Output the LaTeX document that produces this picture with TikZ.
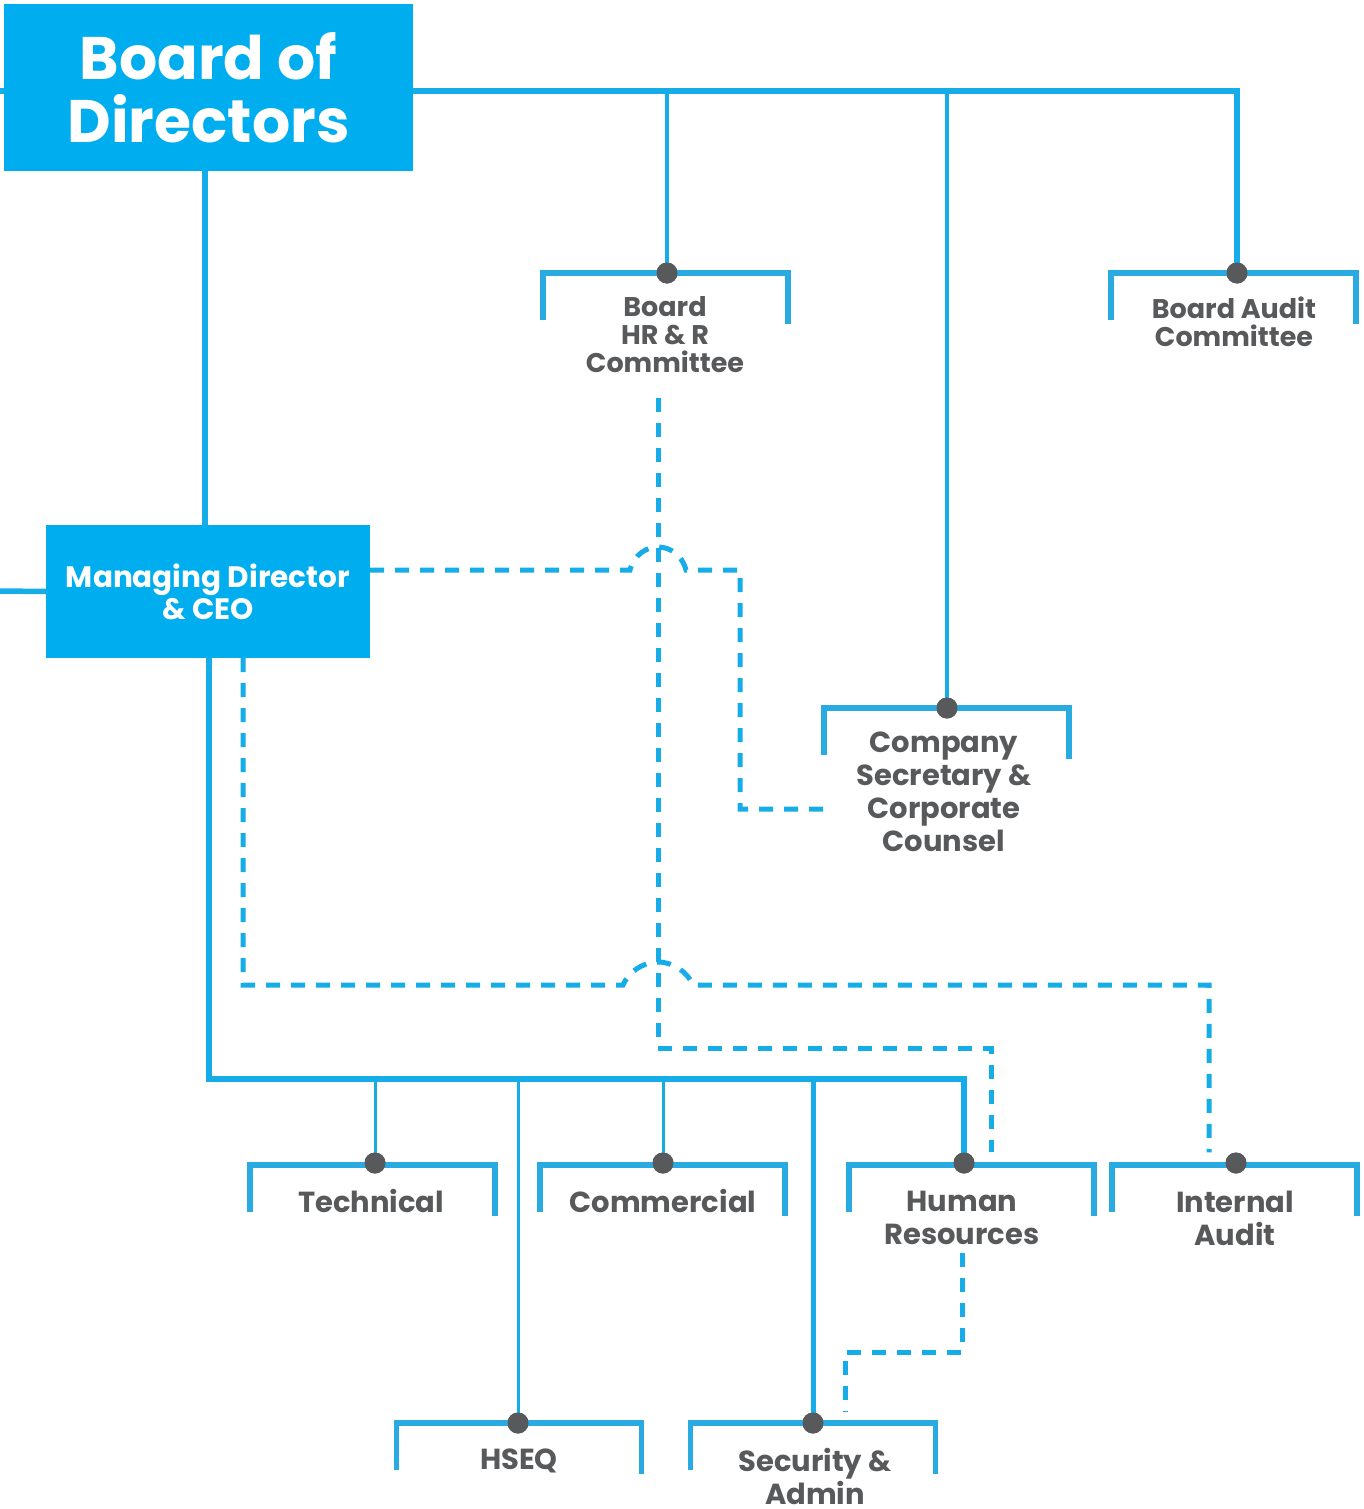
\documentclass[tikz,border=0pt]{standalone}
\usepackage{fontspec}
\setmainfont{Poppins}
\definecolor{boxblue}{HTML}{00AEEF}
\definecolor{lineblue}{HTML}{16ACE8}
\definecolor{brblue}{HTML}{29ABE2}
\definecolor{txtgrey}{HTML}{58595B}
\begin{document}
\begin{tikzpicture}[x=1pt,y=-1pt,
  bigbox/.style={fill=boxblue, draw=none, inner sep=0pt, text=white, align=center},
  solidthick/.style={draw=lineblue, line width=5.5pt},
  solidthin/.style={draw=lineblue, line width=3pt},
  dashline/.style={draw=lineblue, line width=5pt, dash pattern=on 14pt off 11pt},
  bracketline/.style={draw=brblue, line width=5.5pt},
  dotnode/.style={circle, fill=txtgrey, minimum size=21pt, inner sep=0pt},
  toplabel/.style={text=txtgrey, align=center, inner sep=0pt, font=\bfseries\fontsize{27}{28}\selectfont},
  lowlabel/.style={text=txtgrey, align=center, inner sep=0pt, font=\bfseries\fontsize{29}{33}\selectfont}]
\useasboundingbox (0,0) rectangle (1363,1509);

% free ends
\coordinate (lstubA) at (0,91);
\coordinate (lstubB) at (0,591);

% main boxes (placed first as nodes, drawn later on top)
\path (208.5,87.5) node[minimum width=409pt, minimum height=167pt] (board) {};
\path (208,591.5) node[minimum width=324pt, minimum height=133pt] (md) {};

% dots
\node[dotnode] (hrr) at (667,273) {};
\node[dotnode] (bac) at (1237,273) {};
\node[dotnode] (cosec) at (947,708) {};
\node[dotnode] (tech) at (375,1163) {};
\node[dotnode] (comm) at (663,1163) {};
\node[dotnode] (hr) at (964,1163) {};
\node[dotnode] (ia) at (1236,1163) {};
\node[dotnode] (hseq) at (518,1423) {};
\node[dotnode] (sec) at (813,1423) {};

% helper coordinates
\coordinate (topbus) at (1237,91);
\coordinate (botcorner) at (209,1079);
\coordinate (botbus) at (964,1079);

% solid connectors from Board
\draw[solidthick] (lstubA) -- (topbus) -- (bac.center);
\draw[line width=4.5pt, draw=lineblue] (hrr |- topbus) -- (hrr.center);
\draw[line width=4.5pt, draw=lineblue] (cosec |- topbus) -- (cosec.center);
\draw[solidthick] ([xshift=-3.5pt]board.south) -- ([xshift=-3.5pt]board.south |- md.north);
\draw[solidthick] (lstubB) -- (md.west);

% solid connectors from MD
\draw[solidthick] (md.south -| botcorner) -- (botcorner) -- (botbus) -- (hr.center);
\draw[solidthin] (tech |- botbus) -- (tech.center);
\draw[solidthin] (comm |- botbus) -- (comm.center);
\draw[solidthin] (hseq |- botbus) -- (hseq.center);
\draw[line width=5pt, draw=lineblue] (sec |- botbus) -- (sec.center);

% brackets
\newcommand\brk[2]{\draw[bracketline] (#1-122.5,#2+47) -- (#1-122.5,#2) -- (#1+122.5,#2) -- (#1+122.5,#2+51);}
\brk{665.5}{273}
\brk{1233.5}{273}
\brk{946.5}{708}
\brk{372.5}{1165}
\brk{662.5}{1165}
\brk{971.5}{1165}
\brk{1234.5}{1165}
\brk{519}{1423}
\brk{813}{1423}

% labels
\node[toplabel] (lhrr) at (665,335) {Board\\HR \& R\\Committee};
\node[toplabel] (lbac) at (1234,322) {Board Audit\\Committee};
\node[lowlabel] (lcosec) at (944,792) {Company\\Secretary \&\\Corporate\\Counsel};
\node[lowlabel] (ltech) at (371,1201) {Technical};
\node[lowlabel] (lcomm) at (663,1201) {Commercial};
\node[lowlabel] (lhr) at (962,1218) {Human\\Resources};
\node[lowlabel] (lia) at (1235,1218) {Internal\\Audit};
\node[lowlabel] (lhseq) at (519,1461) {HSEQ};
\node[lowlabel] (lsec) at (815,1476) {Security \&\\Admin};

% dashed connectors
\coordinate (dA1) at (740,570);
\coordinate (dA2) at (740,809);
\coordinate (dA3) at (829,809);
\draw[dashline] (md.east |- dA1) -- (630,570)
   .. controls (634,555) and (646,547) .. (658,547)
   .. controls (670,547) and (682,555) .. (686,570)
   -- (dA1) -- (dA2) -- (dA3);
\coordinate (dB1) at (658,1048);
\coordinate (dB2) at (991,1048);
\draw[dashline] (lhrr.south -| dB1) ++(0,25) -- (dB1) -- (dB2) -- (dB2 |- hr.north);
\coordinate (dC1) at (243,985);
\coordinate (dC2) at (1209,985);
\draw[dashline] (md.south -| dC1) -- (dC1) -- (623,985)
   .. controls (628,973) and (642,962) .. (658,962)
   .. controls (674,962) and (688,973) .. (693,985)
   -- (dC2) -- (dC2 |- ia.north);
\coordinate (dD1) at (962,1352);
\coordinate (dD2) at (845,1352);
\draw[dashline] (lhr.south) ++(0,8) -- (dD1) -- (dD2) -- (dD2 |- sec.north);

% boxes on top
\node[bigbox, minimum width=409pt, minimum height=167pt, font=\bfseries\fontsize{60}{63}\selectfont] at (board) {Board of\\Directors};
\node[bigbox, minimum width=324pt, minimum height=133pt, font=\bfseries\fontsize{29.5}{32}\selectfont] at (md) {Managing Director\\\& CEO};

% dots on top
\foreach \d in {hrr,bac,cosec,tech,comm,hr,ia,hseq,sec} {\fill[txtgrey] (\d) circle[radius=10.5pt];}
\end{tikzpicture}
\end{document}
